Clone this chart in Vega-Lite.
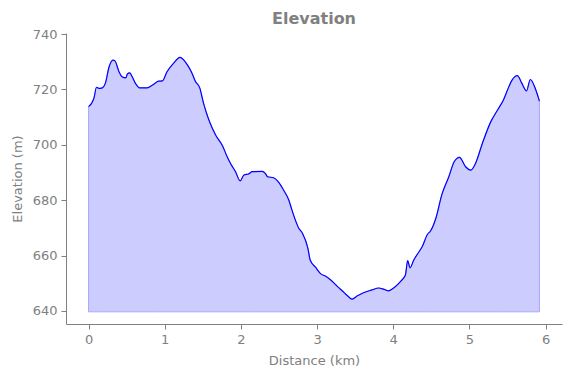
{
  "$schema": "https://vega.github.io/schema/vega-lite/v6.json",
  "width": 496,
  "height": 291,
  "autosize": {"type": "none"},
  "padding": {"left": 66, "top": 33, "right": 9, "bottom": 54},
  "background": "white",
  "title": {
    "text": "Elevation",
    "font": "DejaVu Sans",
    "fontSize": 16,
    "fontWeight": "bold",
    "color": "#808080",
    "anchor": "middle",
    "offset": 1
  },
  "config": {
    "view": {"stroke": null},
    "axis": {
      "domainColor": "#808080",
      "tickColor": "#808080",
      "labelColor": "#808080",
      "titleColor": "#808080",
      "labelFont": "DejaVu Sans",
      "titleFont": "DejaVu Sans",
      "labelFontSize": 13,
      "titleFontSize": 13,
      "titleFontWeight": "normal",
      "grid": false,
      "tickSize": 5,
      "labelPadding": 4
    }
  },
  "data": {
    "values": [
      {"km": 0.0, "elev": 713.8},
      {"km": 0.07, "elev": 716.8},
      {"km": 0.105, "elev": 720.8},
      {"km": 0.135, "elev": 720.4},
      {"km": 0.18, "elev": 720.6},
      {"km": 0.22, "elev": 722.2},
      {"km": 0.27, "elev": 728.2},
      {"km": 0.32, "elev": 730.6},
      {"km": 0.345, "elev": 730.4},
      {"km": 0.40, "elev": 726.4},
      {"km": 0.44, "elev": 724.6},
      {"km": 0.49, "elev": 724.2},
      {"km": 0.51, "elev": 725.6},
      {"km": 0.54, "elev": 726.0},
      {"km": 0.57, "elev": 724.8},
      {"km": 0.62, "elev": 722.0},
      {"km": 0.67, "elev": 720.6},
      {"km": 0.77, "elev": 720.6},
      {"km": 0.84, "elev": 721.6},
      {"km": 0.92, "elev": 723.0},
      {"km": 0.97, "elev": 723.1},
      {"km": 1.03, "elev": 726.4},
      {"km": 1.12, "elev": 729.6},
      {"km": 1.20, "elev": 731.6},
      {"km": 1.23, "elev": 731.2},
      {"km": 1.30, "elev": 728.8},
      {"km": 1.36, "elev": 725.8},
      {"km": 1.40, "elev": 723.1},
      {"km": 1.46, "elev": 720.6},
      {"km": 1.51, "elev": 715.0},
      {"km": 1.58, "elev": 709.0},
      {"km": 1.67, "elev": 703.5},
      {"km": 1.76, "elev": 699.6},
      {"km": 1.82, "elev": 695.7},
      {"km": 1.87, "elev": 693.0},
      {"km": 1.93, "elev": 690.3},
      {"km": 1.99, "elev": 687.0},
      {"km": 2.04, "elev": 689.1},
      {"km": 2.10, "elev": 689.5},
      {"km": 2.15, "elev": 690.3},
      {"km": 2.28, "elev": 690.4},
      {"km": 2.32, "elev": 689.7},
      {"km": 2.35, "elev": 688.5},
      {"km": 2.43, "elev": 688.1},
      {"km": 2.50, "elev": 686.4},
      {"km": 2.56, "elev": 683.7},
      {"km": 2.63, "elev": 680.0},
      {"km": 2.67, "elev": 676.5},
      {"km": 2.76, "elev": 669.9},
      {"km": 2.81, "elev": 668.0},
      {"km": 2.88, "elev": 662.6},
      {"km": 2.91, "elev": 658.4},
      {"km": 2.98, "elev": 655.8},
      {"km": 3.05, "elev": 653.4},
      {"km": 3.11, "elev": 652.6},
      {"km": 3.18, "elev": 651.2},
      {"km": 3.27, "elev": 648.8},
      {"km": 3.33, "elev": 647.3},
      {"km": 3.40, "elev": 645.5},
      {"km": 3.46, "elev": 644.3},
      {"km": 3.53, "elev": 645.5},
      {"km": 3.61, "elev": 646.6},
      {"km": 3.72, "elev": 647.6},
      {"km": 3.81, "elev": 648.3},
      {"km": 3.88, "elev": 647.8},
      {"km": 3.94, "elev": 647.3},
      {"km": 4.01, "elev": 648.4},
      {"km": 4.10, "elev": 650.8},
      {"km": 4.16, "elev": 653.0},
      {"km": 4.19, "elev": 658.2},
      {"km": 4.22, "elev": 655.6},
      {"km": 4.27, "elev": 658.4},
      {"km": 4.36, "elev": 662.3},
      {"km": 4.38, "elev": 663.2},
      {"km": 4.45, "elev": 667.7},
      {"km": 4.49, "elev": 668.9},
      {"km": 4.56, "elev": 673.5},
      {"km": 4.64, "elev": 682.2},
      {"km": 4.73, "elev": 688.5},
      {"km": 4.80, "elev": 693.9},
      {"km": 4.87, "elev": 695.5},
      {"km": 4.95, "elev": 692.1},
      {"km": 5.02, "elev": 690.9},
      {"km": 5.08, "elev": 693.3},
      {"km": 5.17, "elev": 700.5},
      {"km": 5.28, "elev": 708.3},
      {"km": 5.37, "elev": 712.6},
      {"km": 5.45, "elev": 716.4},
      {"km": 5.50, "elev": 719.8},
      {"km": 5.56, "elev": 723.4},
      {"km": 5.63, "elev": 725.0},
      {"km": 5.69, "elev": 722.2},
      {"km": 5.75, "elev": 719.5},
      {"km": 5.80, "elev": 723.6},
      {"km": 5.87, "elev": 720.0},
      {"km": 5.92, "elev": 715.8}
    ]
  },
  "encoding": {
    "x": {
      "field": "km",
      "type": "quantitative",
      "scale": {"domain": [-0.296, 6.216], "nice": false, "zero": false},
      "axis": {"title": "Distance (km)", "values": [0, 1, 2, 3, 4, 5, 6], "format": "d", "titlePadding": 8}
    },
    "y": {
      "field": "elev",
      "type": "quantitative",
      "scale": {"domain": [635.3, 740.4], "nice": false, "zero": false},
      "axis": {"title": "Elevation (m)", "values": [640, 660, 680, 700, 720, 740], "format": "d", "titlePadding": 8}
    }
  },
  "layer": [
    {
      "mark": {"type": "area", "color": "#ccccff", "stroke": "#a8a8ff", "strokeWidth": 1, "opacity": 1, "interpolate": "monotone"},
      "encoding": {"y2": {"datum": 639.7}}
    },
    {
      "mark": {"type": "line", "color": "#0000ff", "strokeWidth": 1.2, "interpolate": "monotone"}
    }
  ]
}
